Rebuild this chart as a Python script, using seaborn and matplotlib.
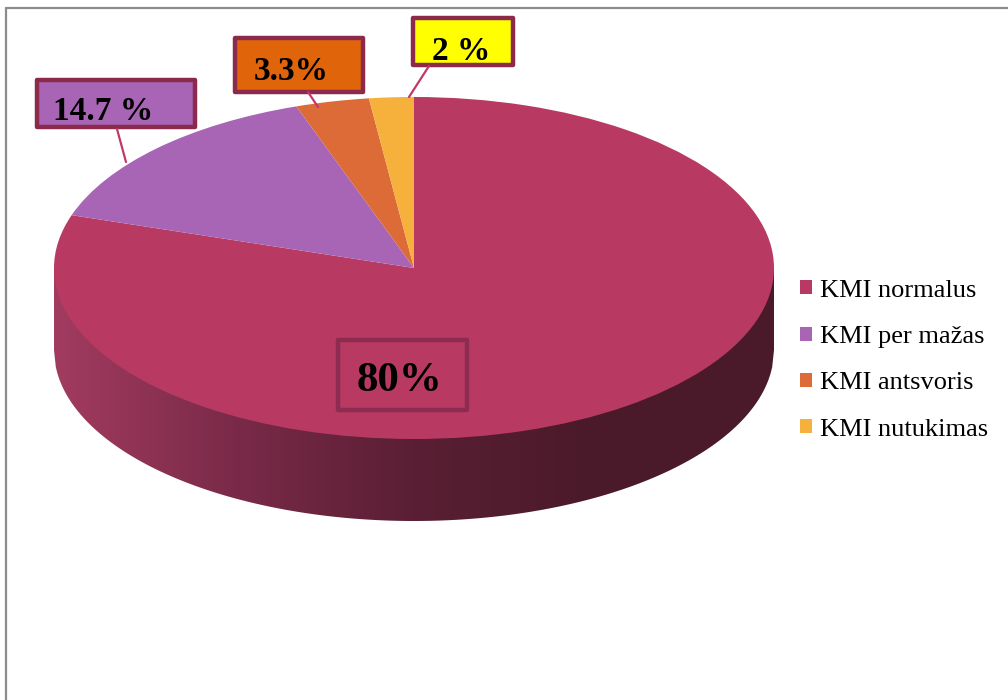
import numpy as np
import matplotlib.pyplot as plt
import seaborn as sns
from matplotlib.colors import LinearSegmentedColormap
from matplotlib.patches import Polygon, Rectangle, Patch
from matplotlib.lines import Line2D

# -------------------------
# data
# -------------------------
categories = ["KMI normalus", "KMI per mažas", "KMI antsvoris", "KMI nutukimas"]
shares = [80, 14.7, 3.3, 2]
label_texts = ["80%", "14.7 %", "3.3%", "2 %"]
slice_colors = ["#B83A63", "#A865B5", "#DD6B38", "#F5B13C"]
box_faces = ["none", "#A865B5", "#E0640A", "#FFFF00"]

sns.set_theme(style="white")
plt.rcParams["font.family"] = ["Liberation Serif", "DejaVu Serif"]
plt.rcParams["text.color"] = "black"
palette = sns.color_palette(slice_colors)

W, H = 1008, 700
fig = plt.figure(figsize=(W / 100, H / 100), dpi=100)

def fx(x):
    return x / W

def fy(y):
    return 1 - y / H

# -------------------------
# pie (squashed ellipse + side wall)
# -------------------------
cx, cy, rx, ry, depth = 414, 268, 360, 171, 82
d = depth / ry
ax = fig.add_axes([fx(cx - rx), fy(cy + ry + depth), 2 * rx / W, (2 * ry + depth) / H])

wedges, _ = ax.pie(shares, colors=palette, startangle=90, counterclock=False,
                   radius=1, wedgeprops=dict(linewidth=0))

# side wall with a left-to-right shading
xs = np.linspace(-1, 1, 400)
bottom = -np.sqrt(1 - xs ** 2) - d
verts = np.vstack([np.column_stack([xs, bottom]), [[1, 0], [-1, 0]]])
side = Polygon(verts, closed=True, fc="none", ec="none")
ax.add_patch(side)
side_cmap = LinearSegmentedColormap.from_list(
    "side", ["#A23B60", "#7A2A48", "#5A1F34", "#4A1A2A", "#4A1A2A"])
grad = np.linspace(0, 1, 256)[None, :]
im = ax.imshow(grad, extent=(-1, 1, -1 - d, 0), cmap=side_cmap, aspect="auto", zorder=0)
im.set_clip_path(side)

ax.set_aspect("auto")
ax.set_xlim(-1, 1)
ax.set_ylim(-1 - d, 1)
ax.axis("off")

# -------------------------
# data labels (boxes + leader lines), in pixel layout
# -------------------------
boxes = [(338, 340, 467, 410), (37, 80, 195, 127), (235, 38, 363, 92), (413, 18, 513, 65)]
text_pos = [(400, 381), (103, 112), (291, 72), (461, 51)]
text_size = [31, 24, 24, 24]
leaders = [None, ((117, 129), (126, 162)), ((308, 92), (318, 107)), ((429, 66), (409, 97))]
edge_cols = ["#8C2C50", "#8B2A4A", "#8B2A4A", "#8B2A4A"]

for i in range(len(categories)):
    x0, y0, x1, y1 = boxes[i]
    fig.add_artist(Rectangle((fx(x0), fy(y1)), fx(x1) - fx(x0), fy(y0) - fy(y1),
                             transform=fig.transFigure, fc=box_faces[i],
                             ec=edge_cols[i], lw=3.2, joinstyle="round"))
    tx, ty = text_pos[i]
    fig.text(fx(tx), fy(ty), label_texts[i], ha="center", va="center",
             fontsize=text_size[i], fontweight="heavy", color="black")
    if leaders[i] is not None:
        (ax_, ay_), (bx_, by_) = leaders[i]
        fig.add_artist(Line2D([fx(ax_), fx(bx_)], [fy(ay_), fy(by_)],
                              transform=fig.transFigure, color="#C2386A", lw=1.6))

# -------------------------
# legend
# -------------------------
handles = [Patch(facecolor=c, edgecolor="none") for c in palette]
leg = fig.legend(handles, categories, loc="upper left", bbox_to_anchor=(fx(776), fy(256)),
                 frameon=False, fontsize=19, handlelength=0.45, handleheight=0.45,
                 handletextpad=0.3, labelspacing=0.92)
for t in leg.get_texts():
    t.set_color("black")

# outer frame (top and left edges only visible)
fig.add_artist(Line2D([fx(6), fx(W)], [fy(8), fy(8)], transform=fig.transFigure,
                      color="#8C8C8C", lw=1.6))
fig.add_artist(Line2D([fx(6), fx(6)], [fy(8), fy(H)], transform=fig.transFigure,
                      color="#8C8C8C", lw=1.6))

fig.savefig("out.png", dpi=100)
plt.close(fig)
